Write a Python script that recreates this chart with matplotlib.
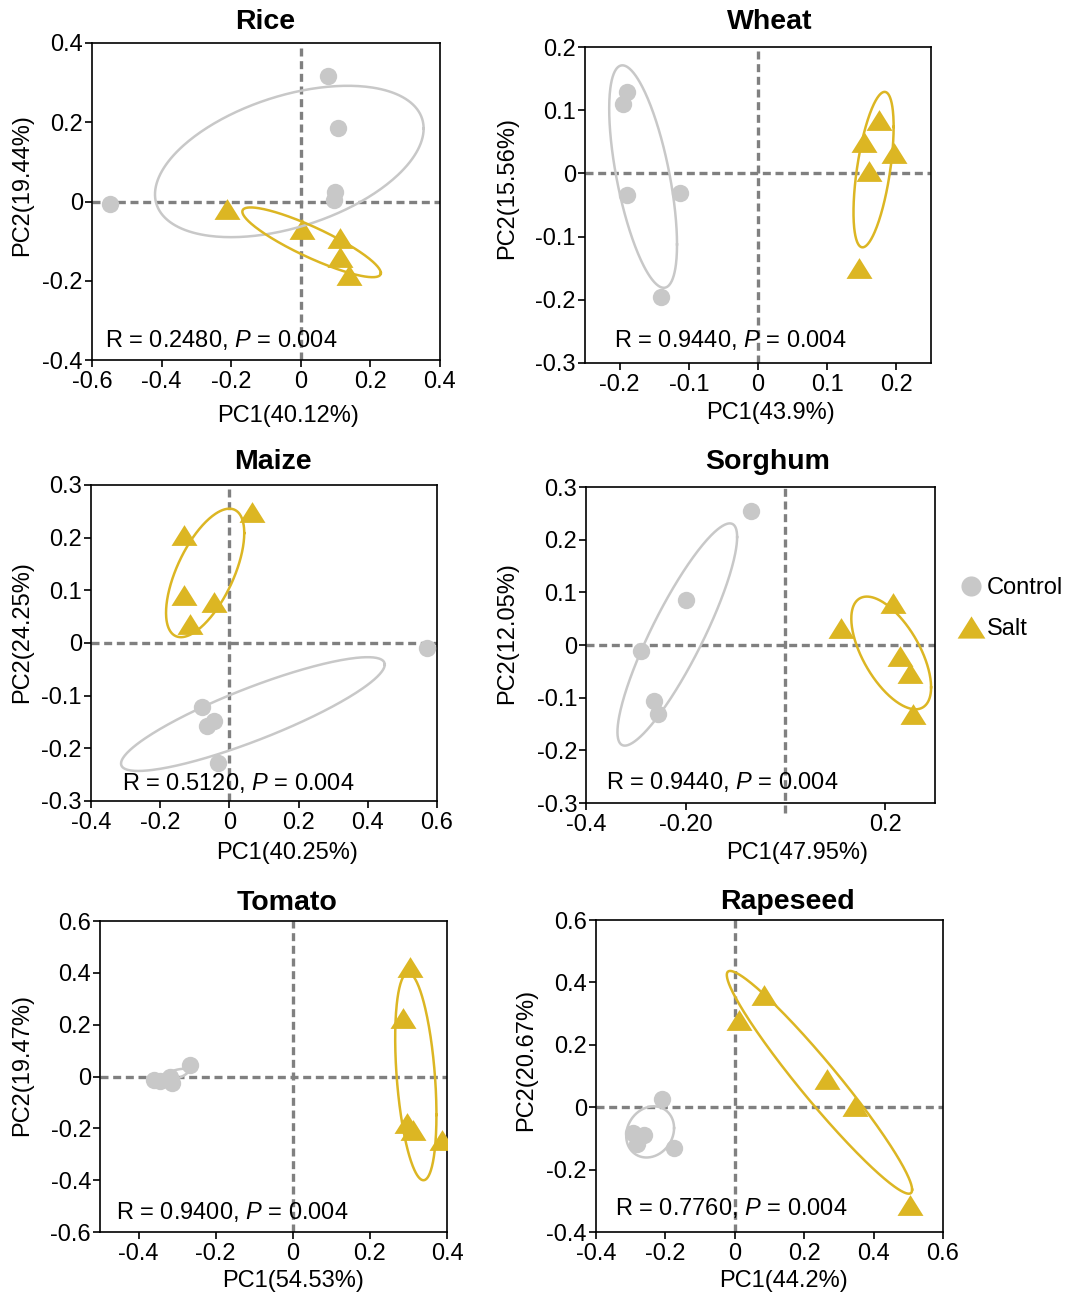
import numpy as np
import matplotlib
matplotlib.use("Agg")
import matplotlib.pyplot as plt
from matplotlib.lines import Line2D

plt.rcParams['font.family'] = ['Liberation Sans', 'DejaVu Sans']
plt.rcParams['mathtext.fontset'] = 'custom'
plt.rcParams['mathtext.rm'] = 'Liberation Sans'
plt.rcParams['mathtext.it'] = 'Liberation Sans:italic'
plt.rcParams['axes.unicode_minus'] = False

GREY = '#c8c8c8'
GOLD = '#dcb623'
DASH = '#808080'

###############################################################################
#                                   DATA                                      #
###############################################################################

crops = ["Rice", "Wheat", "Maize", "Sorghum", "Tomato", "Rapeseed"]
pc1_var = ["40.12%", "43.9%", "40.25%", "47.95%", "54.53%", "44.2%"]
pc2_var = ["19.44%", "15.56%", "24.25%", "12.05%", "19.47%", "20.67%"]
anosim_r = ["0.2480", "0.9440", "0.5120", "0.9440", "0.9400", "0.7760"]
anosim_p = ["0.004", "0.004", "0.004", "0.004", "0.004", "0.004"]

# scores (PC1, PC2) of the control and salt samples
rice_control_pc1 = [-0.547, 0.077, 0.108, 0.099, 0.094]
rice_control_pc2 = [-0.006, 0.316, 0.185, 0.024, 0.004]
rice_salt_pc1 = [-0.213, 0.003, 0.112, 0.112, 0.139]
rice_salt_pc2 = [-0.019, -0.070, -0.093, -0.139, -0.185]

wheat_control_pc1 = [-0.189, -0.195, -0.189, -0.113, -0.140]
wheat_control_pc2 = [0.129, 0.110, -0.034, -0.031, -0.196]
wheat_salt_pc1 = [0.175, 0.153, 0.196, 0.160, 0.146]
wheat_salt_pc2 = [0.084, 0.049, 0.033, 0.004, -0.149]

maize_control_pc1 = [0.571, -0.079, -0.064, -0.045, -0.034]
maize_control_pc2 = [-0.010, -0.121, -0.158, -0.149, -0.227]
maize_salt_pc1 = [0.066, -0.130, -0.132, -0.045, -0.113]
maize_salt_pc2 = [0.249, 0.205, 0.091, 0.078, 0.036]

sorghum_control_pc1 = [-0.069, -0.200, -0.290, -0.263, -0.256]
sorghum_control_pc2 = [0.255, 0.085, -0.011, -0.106, -0.130]
sorghum_salt_pc1 = [0.215, 0.111, 0.230, 0.250, 0.256]
sorghum_salt_pc2 = [0.079, 0.032, -0.021, -0.054, -0.130]

tomato_control_pc1 = [-0.267, -0.359, -0.345, -0.313, -0.318]
tomato_control_pc2 = [0.044, -0.015, -0.019, -0.026, -0.003]
tomato_salt_pc1 = [0.304, 0.287, 0.295, 0.312, 0.386]
tomato_salt_pc2 = [0.421, 0.225, -0.180, -0.205, -0.244]

rapeseed_control_pc1 = [-0.209, -0.176, -0.293, -0.262, -0.282]
rapeseed_control_pc2 = [0.026, -0.129, -0.081, -0.088, -0.117]
rapeseed_salt_pc1 = [0.013, 0.084, 0.267, 0.346, 0.504]
rapeseed_salt_pc2 = [0.279, 0.359, 0.092, 0.003, -0.314]

# group ellipses: centre x, centre y, half width, half height, correlation
rice_control_ellipse = [-0.033, 0.101, 0.386, 0.191, 0.435]
rice_salt_ellipse = [0.031, -0.103, 0.199, 0.088, -0.88]
wheat_control_ellipse = [-0.166, -0.005, 0.049, 0.176, -0.61]
wheat_salt_ellipse = [0.167, 0.006, 0.029, 0.123, 0.55]
maize_control_ellipse = [0.068, -0.135, 0.381, 0.108, 0.87]
maize_salt_ellipse = [-0.070, 0.133, 0.113, 0.122, 0.62]
sorghum_control_ellipse = [-0.217, 0.020, 0.120, 0.211, 0.877]
sorghum_salt_ellipse = [0.212, -0.015, 0.080, 0.107, -0.61]
tomato_control_ellipse = [-0.31, 0.005, 0.040, 0.025, 0.7]
tomato_salt_ellipse = [0.319, 0.0, 0.0535, 0.40, -0.37]
rapeseed_control_ellipse = [-0.244, -0.079, 0.069, 0.082, 0.15]
rapeseed_salt_ellipse = [0.244, 0.080, 0.267, 0.357, -0.964]

# axis ranges and ticks
x_lims = [(-0.6, 0.4), (-0.25, 0.25), (-0.4, 0.6), (-0.4, 0.3), (-0.5, 0.4), (-0.4, 0.6)]
y_lims = [(-0.4, 0.4), (-0.3, 0.2), (-0.3, 0.3), (-0.3, 0.3), (-0.6, 0.6), (-0.4, 0.6)]
x_ticks = [[-0.6, -0.4, -0.2, 0, 0.2, 0.4],
           [-0.2, -0.1, 0, 0.1, 0.2],
           [-0.4, -0.2, 0, 0.2, 0.4, 0.6],
           [-0.4, -0.2, 0.2],
           [-0.4, -0.2, 0, 0.2, 0.4],
           [-0.4, -0.2, 0, 0.2, 0.4, 0.6]]
y_ticks = [[-0.4, -0.2, 0, 0.2, 0.4],
           [-0.3, -0.2, -0.1, 0, 0.1, 0.2],
           [-0.3, -0.2, -0.1, 0, 0.1, 0.2, 0.3],
           [-0.3, -0.2, -0.1, 0, 0.1, 0.2, 0.3],
           [-0.6, -0.4, -0.2, 0, 0.2, 0.4, 0.6],
           [-0.4, -0.2, 0, 0.2, 0.4, 0.6]]
sorghum_x_ticklabels = ["-0.4", "-0.20", "0.2"]

control_pc1 = [rice_control_pc1, wheat_control_pc1, maize_control_pc1,
               sorghum_control_pc1, tomato_control_pc1, rapeseed_control_pc1]
control_pc2 = [rice_control_pc2, wheat_control_pc2, maize_control_pc2,
               sorghum_control_pc2, tomato_control_pc2, rapeseed_control_pc2]
salt_pc1 = [rice_salt_pc1, wheat_salt_pc1, maize_salt_pc1,
            sorghum_salt_pc1, tomato_salt_pc1, rapeseed_salt_pc1]
salt_pc2 = [rice_salt_pc2, wheat_salt_pc2, maize_salt_pc2,
            sorghum_salt_pc2, tomato_salt_pc2, rapeseed_salt_pc2]
control_ell = [rice_control_ellipse, wheat_control_ellipse, maize_control_ellipse,
               sorghum_control_ellipse, tomato_control_ellipse, rapeseed_control_ellipse]
salt_ell = [rice_salt_ellipse, wheat_salt_ellipse, maize_salt_ellipse,
            sorghum_salt_ellipse, tomato_salt_ellipse, rapeseed_salt_ellipse]

###############################################################################
#                                  LAYOUT                                     #
###############################################################################

W, H = 1070, 1295

# [left, bottom, width, height] of each panel in figure fraction
panel_rect = [[0.0860, 0.7220, 0.3252, 0.2448],
              [0.5467, 0.7197, 0.3234, 0.2440],
              [0.0850, 0.3815, 0.3234, 0.2440],
              [0.5477, 0.3799, 0.3262, 0.2440],
              [0.0935, 0.0486, 0.3243, 0.2402],
              [0.5570, 0.0486, 0.3243, 0.2409]]
# title centre x / baseline y, in pixels from the top left corner
title_px = [(265, 29), (770, 29), (273, 469), (768, 469), (287, 910), (787, 909)]
xlabel_xy = [(0.563, -0.142), (0.537, -0.123), (0.566, -0.130),
             (0.606, -0.123), (0.556, -0.122), (0.539, -0.122)]
ylabel_xy = [(-0.170, 0.552), (-0.194, 0.554), (-0.168, 0.535),
             (-0.195, 0.538), (-0.193, 0.537), (-0.170, 0.551)]
stat_xy = [(0.037, 0.063), (0.084, 0.073), (0.090, 0.057),
           (0.057, 0.066), (0.046, 0.064), (0.055, 0.077)]

TRIANGLE = [(0, 1), (-1.25, -1), (1.25, -1)]
FS = 17


def tick_text(v):
    if v == 0:
        return "0"
    return f"{v:g}"


def draw_ellipse(ax, ell, color):
    cx, cy, hx, hy, rho = ell
    t = np.linspace(0, 2 * np.pi, 300)
    phi = np.arccos(rho)
    ax.plot(cx + hx * np.cos(t), cy + hy * np.cos(t + phi),
            color=color, lw=1.8, zorder=4)


fig = plt.figure(figsize=(W / 100, H / 100), dpi=100)

for i, crop in enumerate(crops):
    ax = fig.add_axes(panel_rect[i])
    ax.set_xlim(x_lims[i])
    ax.set_ylim(y_lims[i])

    # reference lines through the origin
    ax.axhline(0, color=DASH, lw=2.4, dashes=(2.4, 1.4), zorder=1)
    if crop == "Sorghum":
        ax.axvline(0, ymin=-0.03, color=DASH, lw=2.4, dashes=(2.4, 1.4),
                   zorder=1, clip_on=False)
    else:
        ax.axvline(0, color=DASH, lw=2.4, dashes=(2.4, 1.4), zorder=1)

    ax.plot(control_pc1[i], control_pc2[i], 'o', color=GREY, ms=12.5,
            mew=0, zorder=3)
    ax.plot(salt_pc1[i], salt_pc2[i], marker=TRIANGLE, ls='none', color=GOLD,
            ms=18.7, mew=0, zorder=3)
    draw_ellipse(ax, control_ell[i], GREY)
    draw_ellipse(ax, salt_ell[i], GOLD)

    ax.set_xticks(x_ticks[i])
    if crop == "Sorghum":
        ax.set_xticklabels(sorghum_x_ticklabels)
    else:
        ax.set_xticklabels([tick_text(v) for v in x_ticks[i]])
    ax.set_yticks(y_ticks[i])
    ax.set_yticklabels([tick_text(v) for v in y_ticks[i]])
    ax.tick_params(axis='both', direction='out', length=5, width=1.2,
                   labelsize=FS, color='black')
    ax.tick_params(axis='x', pad=3)
    ax.tick_params(axis='y', pad=1.5)
    for sp in ax.spines.values():
        sp.set_linewidth(1.2)
        sp.set_color('black')

    tx, ty = title_px[i]
    fig.text(tx / W, 1 - ty / H, crop, fontsize=20.5, fontweight='bold',
             ha='center', va='baseline')
    ax.set_xlabel(f"PC1({pc1_var[i]})", fontsize=FS)
    ax.set_ylabel(f"PC2({pc2_var[i]})", fontsize=FS)
    ax.xaxis.set_label_coords(*xlabel_xy[i])
    ax.yaxis.set_label_coords(*ylabel_xy[i])
    ax.text(stat_xy[i][0], stat_xy[i][1],
            f"R = {anosim_r[i]}, $P$ = {anosim_p[i]}",
            transform=ax.transAxes, fontsize=FS, va='center', ha='left',
            zorder=5)

handles = [Line2D([], [], ls='none', marker='o', color=GREY, ms=14.5, mew=0),
           Line2D([], [], ls='none', marker=TRIANGLE, color=GOLD, ms=20, mew=0)]
fig.legend(handles, ["Control", "Salt"], loc='center left',
           bbox_to_anchor=(0.896, 0.530), frameon=False, fontsize=FS,
           handlelength=1.0, handletextpad=0.2, labelspacing=0.8,
           borderpad=0, borderaxespad=0)

fig.savefig("out.png", dpi=100)
